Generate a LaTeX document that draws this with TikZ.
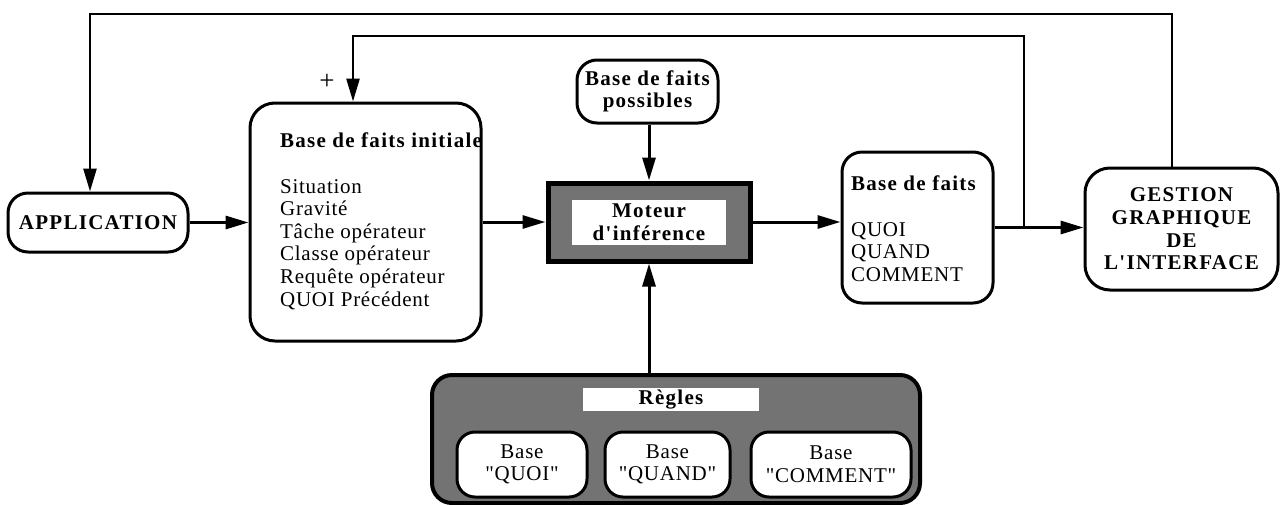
\documentclass[tikz,border=0pt]{standalone}
\usepackage{fontspec}
\setmainfont{Liberation Serif}[Ligatures=TeXOff, LetterSpace=3.5, BoldFeatures={LetterSpace=6}]
\usetikzlibrary{positioning,arrows.meta}

\begin{document}
\begin{tikzpicture}[
    x=1pt, y=-1pt,
    font=\fontsize{21}{22.6}\selectfont,
    bold/.style={font=\fontsize{21}{22.6}\selectfont\bfseries},
    box/.style={draw, line width=3pt, rounded corners=20pt, inner sep=0pt, align=center},
    hatched/.style={draw, fill=black!55},
    listtxt/.style={anchor=north west, align=left, inner sep=0pt},
    arr/.style={-{Triangle[length=23pt,width=13pt]}, line width=3pt},
    wire/.style={line width=2.6pt}
]
    \useasboundingbox (0,0) rectangle (1281,504);

    % Left column
    \node[box, bold, minimum width=180pt, minimum height=59pt] (app) at (98,222.5) {APPLICATION};
    \node[box, rounded corners=25pt, minimum width=231pt, minimum height=238pt] (bfi) at (365.5,222) {};
    \node[listtxt] (bfitxt) at (280,133) {\textbf{Base de faits initiale}\\[22.6pt]Situation\\Gravité\\Tâche opérateur\\Classe opérateur\\Requête opérateur\\QUOI Précédent};
    \node[font=\fontsize{27}{27}\selectfont] (plus) at (327,82) {+};

    % Inference engine and its inputs
    \node[box, bold, minimum width=141pt, minimum height=63pt] (poss) at (647.5,91.5) {Base de faits\\possibles};
    \node[hatched, line width=5pt, minimum width=202pt, minimum height=78pt] (moteur) at (649,222) {};
    \node[bold, fill=white, minimum width=154pt, minimum height=45pt, inner sep=0pt, align=center] (motlbl) at (moteur) {Moteur\\d'inférence};

    % Rule bases
    \node[box, hatched, line width=4pt, minimum width=488pt, minimum height=128pt] (regles) at (676,439) {};
    \node[bold, fill=white, minimum width=176pt, minimum height=23pt, inner sep=0pt] (reglbl) at (671,399.5) {Règles};
    \node[box, fill=white, rounded corners=18pt, minimum width=130pt, minimum height=65pt] (bquoi) at (522,464.5) {Base\\"QUOI"};
    \node[box, fill=white, rounded corners=18pt, minimum width=125pt, minimum height=65pt, right=15pt of bquoi] (bquand) {Base\\"QUAND"};
    \node[box, fill=white, rounded corners=18pt, minimum width=160pt, minimum height=65pt, right=18pt of bquand] (bcomm) {Base\\"COMMENT"};

    % Right column
    \node[box, minimum width=151pt, minimum height=151pt] (bdf) at (917.5,227.5) {};
    \node[listtxt] (bdftxt) at (851,176) {\textbf{Base de faits}\\[22.6pt]QUOI\\QUAND\\COMMENT};
    \node[box, bold, rounded corners=25pt, minimum width=193pt, minimum height=122pt] (gestion) at (1181.5,229) {GESTION\\GRAPHIQUE\\DE\\L'INTERFACE};

    % Feedback points
    \coordinate (jct) at (1024,227.5);
    \coordinate (fb) at (353,36);
    \coordinate (top) at (1172,14);
    \coordinate (topl) at (90,14);

    % Connections
    \draw[arr] (app.east) -- (app.east -| bfi.west);
    \draw[arr] (moteur.west -| bfi.east) -- (moteur.west);
    \draw[arr] (moteur.east) -- (moteur.east -| bdf.west);
    \draw[arr] (bdf.east) -- (bdf.east -| gestion.west);
    \draw[arr] (poss.south -| moteur) -- (moteur.north);
    \draw[arr] (regles.north -| moteur) -- (moteur.south);

    % Feedback loops
    \draw[arr, wire] (jct) |- (fb) -- (fb |- bfi.north);
    \draw[arr, wire] (gestion.north -| top) -- (top) -- (topl) -- (topl |- app.north);
\end{tikzpicture}
\end{document}
